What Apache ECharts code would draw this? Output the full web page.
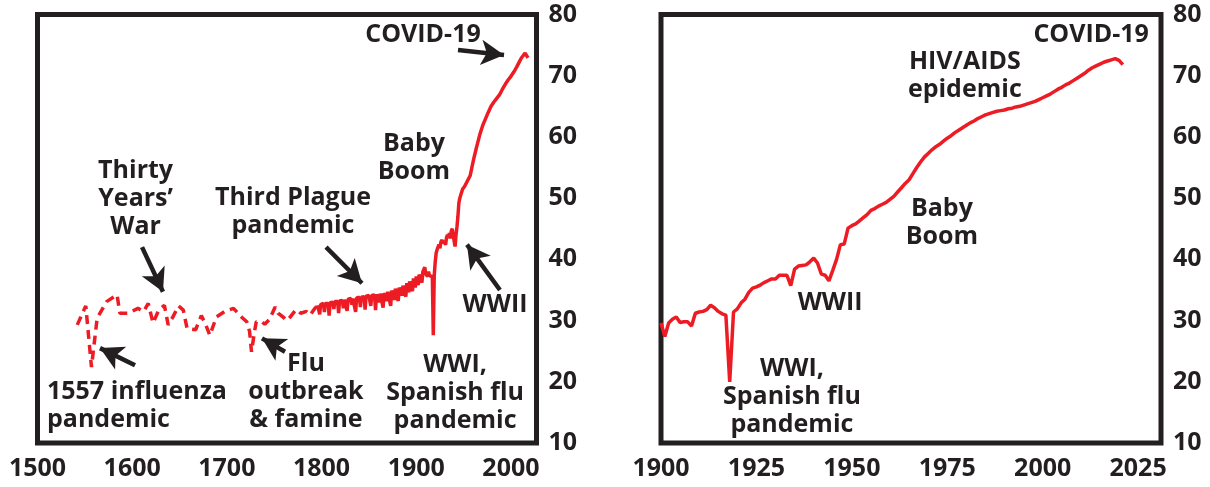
<!DOCTYPE html>
<html>
<head>
<meta charset="utf-8">
<script src="https://cdn.jsdelivr.net/npm/echarts@6/dist/echarts.min.js"></script>
<style>
  html, body { margin: 0; padding: 0; background: #ffffff; }
  #chart { width: 1210px; height: 487px; }
</style>
</head>
<body>
<div id="chart"></div>
<script>
// Life expectancy at birth (years): long-run view since the 1540s, and a closer look since 1900.

// Early estimates (drawn dashed)
const earlyYears = [1542, 1551, 1557, 1563, 1573, 1584, 1587, 1596, 1606, 1612,
  1617, 1622, 1628, 1634, 1638, 1643, 1649, 1654, 1658, 1667,
  1673, 1677, 1682, 1689, 1698, 1707, 1716, 1721, 1724, 1726,
  1729, 1731, 1737, 1740, 1745, 1751, 1754, 1760, 1763, 1767,
  1773, 1778, 1784, 1788, 1793, 1796];
const earlyLife = [29.3, 32.4, 22.4, 30.4, 33.1, 34.2, 31.2, 31.2, 32.0, 31.5,
  32.8, 29.6, 31.7, 32.5, 29.3, 30.6, 32.4, 31.7, 28.7, 28.5,
  30.8, 29.6, 27.6, 30.6, 31.5, 32.0, 30.5, 29.8, 28.2, 24.9,
  28.0, 29.8, 29.8, 29.4, 30.2, 32.2, 31.2, 30.5, 30.0, 30.6,
  31.8, 31.2, 31.5, 30.9, 32.0, 32.5];

// Annual series 1796-1949
const annualStart = 1796;
const annualLife = [
  32.5, 32.6, 31.0, 32.6,
  32.7, 32.7, 32.8, 31.4, 32.8, 32.9, 32.9, 32.8, 30.8, 32.9,
  33.0, 33.0, 33.0, 31.9, 33.1, 33.1, 33.2, 33.1, 31.2, 33.2,
  33.3, 33.3, 33.3, 32.0, 33.4, 33.4, 33.4, 31.6, 33.5, 33.5,
  33.5, 33.6, 32.6, 33.6, 33.6, 33.7, 31.4, 33.7, 33.7, 33.8,
  33.8, 32.2, 33.8, 33.9, 33.9, 33.9, 31.8, 34.0, 34.0, 34.0,
  34.1, 34.1, 32.4, 34.1, 34.2, 34.2, 34.2, 31.7, 34.3, 34.3,
  34.3, 33.0, 34.4, 34.4, 34.5, 32.1, 34.5, 34.6, 34.6, 33.2,
  34.7, 34.8, 34.8, 32.4, 34.9, 35.0, 35.1, 33.4, 35.2, 35.3,
  35.3, 33.2, 35.4, 35.5, 35.6, 34.1, 35.7, 35.8, 35.9, 33.9,
  36.1, 36.2, 34.6, 36.4, 36.6, 36.7, 34.8, 36.9, 37.1, 35.4,
  37.2, 37.3, 35.8, 37.5, 37.6, 37.8, 36.2, 38.0, 38.3, 38.7,
  37.6, 37.9, 37.2, 38.0, 37.3, 37.0, 37.6, 37.2, 27.6, 37.4,
  39.5, 41.0, 41.6, 42.0, 42.4, 41.8, 42.8, 43.2, 42.6, 43.0,
  43.3, 42.4, 43.6, 44.0, 43.5, 44.3, 43.4, 44.6, 45.0, 45.1,
  43.0, 42.1, 44.0, 45.3, 47.0, 49.2, 50.0, 50.5, 51.0, 51.5
];

// Post-war series
const lateYears = [1951, 1954, 1957, 1959, 1961, 1963, 1965, 1967, 1970, 1973,
  1976, 1979, 1982, 1985, 1988, 1991, 1994, 1997, 2000, 2003,
  2006, 2009, 2011, 2013, 2015, 2016, 2018];
const lateLife = [51.9, 52.8, 53.7, 55.2, 56.6, 57.9, 59.1, 60.3, 61.8, 62.9,
  64.0, 65.0, 65.7, 66.3, 66.9, 67.8, 68.6, 69.3, 69.9, 70.6,
  71.4, 72.3, 72.9, 73.3, 73.7, 73.7, 72.9];

// Since 1900, annual
const recentStart = 1900;
const recentLife = [
  29.6, 27.4, 29.6, 30.2, 30.6, 29.7, 29.8, 29.8, 29.1, 31.2,
  31.4, 31.5, 31.8, 32.5, 32.1, 31.5, 31.1, 30.9, 20.0, 31.4,
  31.9, 32.9, 33.5, 34.6, 35.3, 35.5, 35.8, 36.2, 36.5, 36.8,
  36.8, 37.4, 37.4, 37.4, 35.7, 38.4, 38.9, 39.0, 39.1, 39.6,
  40.2, 39.4, 37.6, 37.4, 36.5, 38.2, 40.0, 42.4, 42.5, 45.1,
  45.5, 45.8, 46.3, 46.8, 47.3, 48.0, 48.3, 48.7, 49.0, 49.3,
  49.8, 50.3, 51.0, 51.7, 52.4, 53.0, 54.0, 55.0, 55.9, 56.7,
  57.3, 57.9, 58.4, 58.8, 59.3, 59.8, 60.2, 60.7, 61.1, 61.5,
  61.9, 62.3, 62.6, 63.0, 63.3, 63.6, 63.8, 64.0, 64.2, 64.3,
  64.4, 64.6, 64.7, 64.9, 65.0, 65.2, 65.4, 65.6, 65.8, 66.1,
  66.4, 66.7, 67.0, 67.4, 67.8, 68.1, 68.5, 68.8, 69.2, 69.6,
  70.0, 70.4, 70.9, 71.3, 71.6, 71.9, 72.2, 72.4, 72.6, 72.8,
  72.5, 71.8
];

// Annotation text, placed in data coordinates
const longNotes = [
  { text: 'Thirty\nYears\u2019\nWar', at: [1603.6, 49.8] },
  { text: 'Third Plague\npandemic', at: [1769.8, 47.7] },
  { text: 'Baby\nBoom', at: [1897.6, 56.5] },
  { text: 'COVID-19', at: [1907.1, 76.7] },
  { text: 'WWII', at: [1983.2, 32.5] },
  { text: 'WWI,\nSpanish flu\npandemic', at: [1941.0, 18.2] },
  { text: '1557 influenza\npandemic', at: [1510.0, 16.0], align: 'left' },
  { text: 'Flu\noutbreak\n& famine', at: [1783.5, 18.3] }
];
// Arrows: from tail to tip
const longArrows = [
  { from: [1944.1, 74.2], to: [1992.7, 73.4] },
  { from: [1610.4, 42.0], to: [1632.5, 34.7] },
  { from: [1804.7, 42.0], to: [1842.7, 36.1] },
  { from: [1988.4, 35.0], to: [1953.6, 42.4] },
  { from: [1603.0, 22.7], to: [1566.0, 25.5] },
  { from: [1761.4, 24.9], to: [1737.1, 27.1] }
];
const recentNotes = [
  { text: 'COVID-19', at: [2012.7, 76.7] },
  { text: 'HIV/AIDS\nepidemic', at: [1979.6, 70.0] },
  { text: 'Baby\nBoom', at: [1973.6, 45.9] },
  { text: 'WWII', at: [1944.3, 32.9] },
  { text: 'WWI,\nSpanish flu\npandemic', at: [1934.3, 17.6] }
];

const INK = '#231f20';
const RED = '#ed1c24';
const FONT = '"Open Sans", Lato, sans-serif';

function pairs(years, values) {
  return values.map((v, i) => [years[i], v]);
}
function annual(start, values) {
  return values.map((v, i) => [start + i, v]);
}

function noteMarks(notes) {
  return {
    symbol: 'circle',
    symbolSize: 0,
    silent: true,
    animation: false,
    label: {
      show: true,
      position: 'inside',
      color: INK,
      fontFamily: FONT,
      fontWeight: 'bold',
      fontSize: 25,
      lineHeight: 28,
      verticalAlign: 'middle'
    },
    data: notes.map(n => ({
      coord: n.at,
      value: 0,
      label: { formatter: n.text, align: n.align || 'center' }
    }))
  };
}

function arrowMarks(arrows) {
  return {
    silent: true,
    animation: false,
    symbol: ['none', 'arrow'],
    symbolSize: [19, 23],
    lineStyle: { color: INK, width: 4.5, type: 'solid' },
    label: { show: false },
    emphasis: { disabled: true },
    data: arrows.map(a => [{ coord: a.from }, { coord: a.to }])
  };
}

const axisText = {
  fontSize: 25,
  fontWeight: 'bold',
  fontFamily: FONT,
  color: INK
};

function xAxisFor(grid, min, max, interval) {
  return {
    gridIndex: grid, type: 'value', min, max, interval,
    axisLine: { show: false }, axisTick: { show: false }, splitLine: { show: false },
    axisLabel: Object.assign({ margin: 13, showMaxLabel: false, formatter: v => String(v) }, axisText)
  };
}
function yAxisFor(grid) {
  return {
    gridIndex: grid, type: 'value', position: 'right', min: 10, max: 80, interval: 10,
    axisLine: { show: false }, axisTick: { show: false }, splitLine: { show: false },
    axisLabel: Object.assign({ margin: 12, align: 'left' }, axisText)
  };
}

const frame = { show: true, borderColor: INK, borderWidth: 5, backgroundColor: 'transparent' };

const option = {
  animation: false,
  backgroundColor: '#ffffff',
  grid: [
    Object.assign({ left: 37.5, top: 14.5, width: 499, height: 428.5 }, frame),
    Object.assign({ left: 661, top: 14.5, width: 500, height: 428.5 }, frame)
  ],
  xAxis: [xAxisFor(0, 1500, 2027, 100), xAxisFor(1, 1900, 2031, 25)],
  yAxis: [yAxisFor(0), yAxisFor(1)],
  series: [
    {
      name: 'early', type: 'line', xAxisIndex: 0, yAxisIndex: 0,
      data: pairs(earlyYears, earlyLife),
      showSymbol: false, silent: true,
      lineStyle: { color: RED, width: 3.5, type: [9, 6] },
      markPoint: noteMarks(longNotes),
      markLine: arrowMarks(longArrows)
    },
    {
      name: 'annual', type: 'line', xAxisIndex: 0, yAxisIndex: 0,
      data: annual(annualStart, annualLife).concat(pairs(lateYears, lateLife)),
      showSymbol: false, silent: true,
      lineStyle: { color: RED, width: 3.5 }
    },
    {
      name: 'recent', type: 'line', xAxisIndex: 1, yAxisIndex: 1,
      data: annual(recentStart, recentLife),
      showSymbol: false, silent: true,
      lineStyle: { color: RED, width: 3.5 },
      markPoint: noteMarks(recentNotes)
    }
  ]
};

const chart = echarts.init(document.getElementById('chart'), null, { renderer: 'canvas' });
chart.setOption(option);
</script>
</body>
</html>
